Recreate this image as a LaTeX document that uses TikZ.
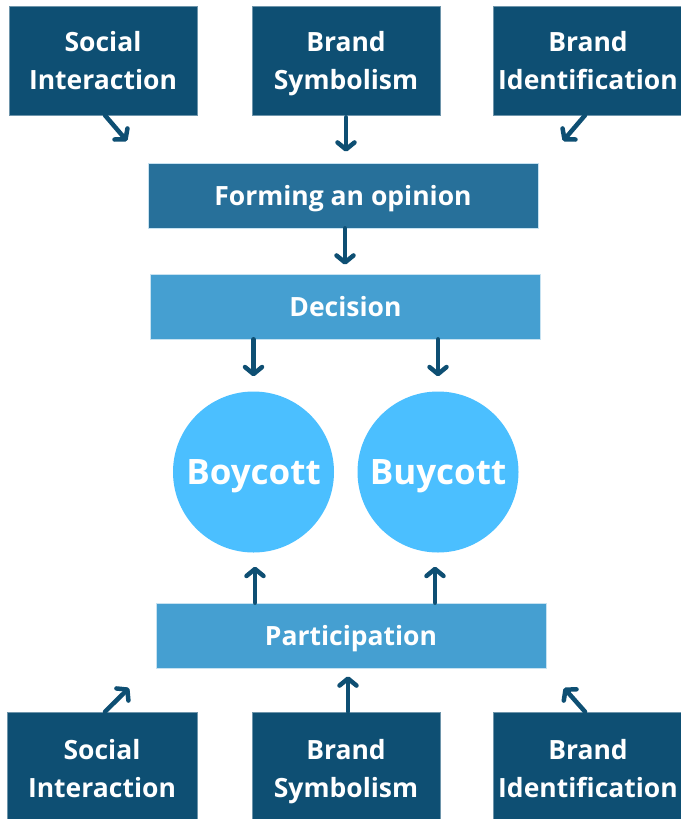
\documentclass[tikz,border=0pt]{standalone}
\usepackage{fontspec}
\setmainfont{Open Sans}
\usetikzlibrary{arrows.meta}
\definecolor{navy}{HTML}{0E4F73}
\definecolor{midblue}{HTML}{27709A}
\definecolor{lightblue}{HTML}{459FD1}
\definecolor{skyblue}{HTML}{4BBFFF}
\newcommand{\lnph}{\vphantom{I}}
\tikzset{
  factor/.style={rectangle, fill=navy, draw=navy!60!white, line width=0.6pt, minimum width=188pt, minimum height=109pt, text=white, font=\fontsize{26.5}{38}\selectfont\bfseries, align=center, inner sep=0pt},
  stage/.style={rectangle, draw=white!70!lightblue, line width=0.6pt, minimum width=390pt, minimum height=65pt, text=white, font=\fontsize{26.5}{30}\selectfont\bfseries, inner sep=0pt, text height=19pt, text depth=0pt},
  outcome/.style={circle, fill=skyblue, minimum size=161pt, text=white, font=\fontsize{35}{40}\selectfont\bfseries, inner sep=0pt, text height=25pt, text depth=0pt},
  conn/.style={draw=navy, line width=4.5pt, line cap=round, -{Straight Barb[length=7pt,width=17pt,line cap=round,line join=round]}},
}
\begin{document}
\begin{tikzpicture}[x=1pt,y=-1pt]
\useasboundingbox (0,0) rectangle (680,819);
\fill[white] (0,0) rectangle (680,819);
% top factors
\node[factor] (si1) at (103,60.5) {\lnph Social\\\smash{Interaction}};
\node[factor] (bs1) at (346,60.5) {\lnph Brand\\\smash{Symbolism}};
\node[factor, minimum width=190pt] (bi1) at (588,60.5) {\lnph Brand\\\smash{Identification}};
% stages
\node[stage, fill=midblue] (form) at (343,195.5) {Forming an opinion};
\node[stage, fill=lightblue] (dec) at (345.5,306.5) {Decision};
\node[outcome] (boy) at (253.5,472) {Boycott};
\node[outcome] (buy) at (438,472) {Buycott};
\node[stage, fill=lightblue] (part) at (351,635.5) {Participation};
% bottom factors
\node[factor, minimum width=190pt, minimum height=112pt] (si2) at (102,768) {\lnph Social\\\smash{Interaction}};
\node[factor, minimum height=112pt] (bs2) at (346,768) {\lnph Brand\\\smash{Symbolism}};
\node[factor, minimum width=190pt, minimum height=112pt] (bi2) at (588,768) {\lnph Brand\\\smash{Identification}};
% free ends
\coordinate (a1) at (127,141);
\coordinate (a3) at (563,141);
\coordinate (b1) at (129,688);
\coordinate (b3) at (564,688);
% connectors top
\draw[conn] ([xshift=2pt]si1.south) -- (a1);
\draw[conn] ([yshift=-2pt]bs1.south) -- ([yshift=11pt]form.north -| bs1.south);
\draw[conn] ([xshift=-3pt]bi1.south) -- (a3);
\draw[conn] (form.south -| 345,0) -- ([yshift=9pt]dec.north -| 345,0);
\draw[conn] (dec.south -| boy.north) -- ([yshift=15pt]boy.north);
\draw[conn] (dec.south -| buy.north) -- ([yshift=15pt]buy.north);
% connectors bottom
\draw[conn] (part.north -| 255,0) -- ([yshift=-14pt]boy.south -| 255,0);
\draw[conn] (part.north -| 435,0) -- ([yshift=-14pt]buy.south -| 435,0);
\draw[conn] ([xshift=3pt]si2.north) -- (b1);
\draw[conn] ([xshift=2pt]bs2.north) -- ([yshift=-8pt]part.south -| 348,0);
\draw[conn] ([xshift=-3pt]bi2.north) -- (b3);
\end{tikzpicture}
\end{document}
